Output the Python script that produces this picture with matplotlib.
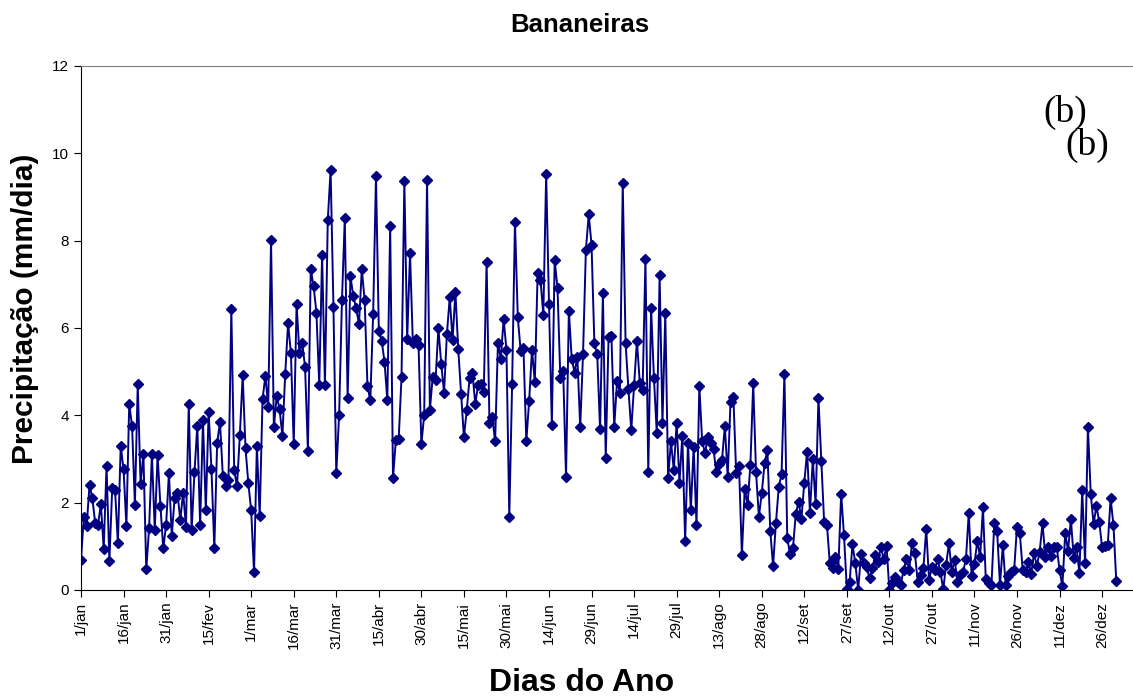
import numpy as np
import matplotlib
matplotlib.use("Agg")
import matplotlib.pyplot as plt

plt.rcParams['font.family'] = ['Liberation Sans', 'DejaVu Sans']

# precipitacao diaria (mm/dia), em blocos de ~30 dias
jan = [0.69, 1.68, 1.47, 2.40, 2.10, 1.53, 1.49, 1.97, 0.94, 2.84, 0.66, 2.33, 2.29, 1.07, 3.30,
       2.76, 1.47, 4.26, 3.76, 1.95, 4.72, 2.43, 3.11, 0.47, 1.41, 3.11, 1.37, 3.09, 1.92, 0.95]
fev = [1.49, 2.67, 1.24, 2.10, 2.23, 1.60, 2.23, 1.45, 4.27, 1.37, 2.69, 3.76, 1.48, 3.89, 1.83,
       4.08, 2.76, 0.95, 3.37, 3.85, 2.61, 2.37, 2.52, 6.43, 2.75, 2.37, 3.55, 4.92, 3.24, 2.44]
mar = [1.82, 0.40, 3.30, 1.69, 4.37, 4.90, 4.20, 8.01, 3.73, 4.44, 4.14, 3.53, 4.95, 6.11, 5.43,
       3.34, 6.55, 5.42, 5.66, 5.10, 3.19, 7.34, 6.96, 6.35, 4.69, 7.67, 4.69, 8.47, 9.62, 6.49]
abr = [2.67, 4.01, 6.63, 8.51, 4.39, 7.18, 6.73, 6.45, 6.09, 7.34, 6.64, 4.66, 4.34, 6.32, 9.48,
       5.94, 5.71, 5.23, 4.34, 8.34, 2.56, 3.43, 3.45, 4.87, 9.37, 5.74, 7.71, 5.66, 5.74, 5.61]
mai = [3.34, 4.01, 9.40, 4.12, 4.88, 4.81, 5.99, 5.18, 4.52, 5.86, 6.70, 5.72, 6.83, 5.51, 4.49,
       3.50, 4.12, 4.85, 4.98, 4.26, 4.69, 4.72, 4.54, 7.52, 3.83, 3.97, 3.40, 5.66, 5.30, 6.20]
jun = [5.50, 1.68, 4.72, 8.43, 6.24, 5.48, 5.53, 3.40, 4.33, 5.50, 4.76, 7.27, 7.10, 6.30, 9.52,
       6.55, 3.78, 7.55, 6.91, 4.85, 5.02, 2.58, 6.40, 5.30, 4.98, 5.34, 3.73, 5.41, 7.78, 8.60]
jul = [7.90, 5.65, 5.40, 3.68, 6.79, 3.02, 5.80, 5.82, 3.74, 4.79, 4.52, 9.31, 5.65, 4.60, 3.66,
       4.69, 5.71, 4.75, 4.58, 7.57, 2.69, 6.45, 4.85, 3.59, 7.21, 3.83, 6.34, 2.56, 3.40, 2.75]
ago = [3.82, 2.46, 3.53, 1.13, 3.37, 1.82, 3.28, 1.49, 4.67, 3.40, 3.14, 3.50, 3.36, 3.22, 2.69,
       2.89, 2.98, 3.76, 2.59, 4.31, 4.43, 2.67, 2.84, 0.80, 2.31, 1.95, 2.86, 4.73, 2.69, 1.68]
set_ = [2.21, 2.90, 3.21, 1.36, 0.55, 1.53, 2.35, 2.66, 4.95, 1.18, 0.82, 0.95, 1.74, 2.02, 1.62,
        2.46, 3.17, 1.77, 2.99, 1.97, 4.39, 2.96, 1.56, 1.49, 0.61, 0.50, 0.76, 0.47, 2.20, 1.26]
out = [0.02, 0.19, 1.05, 0.61, 0.00, 0.82, 0.61, 0.53, 0.27, 0.50, 0.80, 0.63, 0.99, 0.70,
       1.01, 0.00, 0.15, 0.29, 0.19, 0.11, 0.46, 0.70, 0.46, 1.07, 0.84, 0.19, 0.34]
nov = [0.50, 1.39, 0.23, 0.53, 0.46, 0.70, 0.40, 0.02, 0.57, 1.07, 0.42, 0.69, 0.19, 0.34, 0.42,
       0.70, 1.77, 0.31, 0.60, 1.12, 0.75, 1.89, 0.24, 0.17, 0.11, 1.54, 1.34, 0.11, 1.03, 0.11,
       0.32, 0.42, 0.46, 1.45, 1.30]
dez = [0.46, 0.40, 0.65, 0.37, 0.84, 0.55, 0.88, 1.53, 0.76, 0.99, 0.78, 0.98, 0.99, 0.46, 0.09,
       1.30, 0.90, 1.62, 0.73, 0.99, 0.38, 2.29, 0.61, 3.74, 2.20, 1.51, 1.92, 1.56, 0.98, 1.01,
       1.03, 2.10, 1.49, 0.21]

tick_labels = ['1/jan', '16/jan', '31/jan', '15/fev', '1/mar', '16/mar', '31/mar', '15/abr',
               '30/abr', '15/mai', '30/mai', '14/jun', '29/jun', '14/jul', '29/jul', '13/ago',
               '28/ago', '12/set', '27/set', '12/out', '27/out', '11/nov', '26/nov', '11/dez',
               '26/dez']

precip = np.array(jan + fev + mar + abr + mai + jun + jul + ago + set_ + out + nov + dez)
dias = np.arange(1, len(precip) + 1)

fig = plt.figure(figsize=(11.33, 6.99), dpi=100)
ax = fig.add_axes([0.0715, 0.156, 0.9285, 0.7496])

ax.plot(dias, precip, color='#000080', lw=1.4, marker='D', ms=5.5)

ax.set_xlim(1, 371.9)
ax.set_ylim(0, 12)
ax.set_yticks(np.arange(0, 13, 2))
ax.set_xticks(np.arange(1, 367, 15))
ax.set_xticklabels(tick_labels, rotation=90, fontsize=11)
ax.tick_params(axis='y', labelsize=11, direction='out', length=5)
ax.tick_params(axis='x', direction='out', length=5)

ax.spines['right'].set_visible(False)
ax.spines['top'].set_color('#808080')

fig.text(25 / 1133, 1 - 309 / 699, 'Precipitação (mm/dia)', fontsize=21.5, fontweight='bold',
         rotation=90, ha='center', va='center')
fig.text(0.512, 0.964, 'Bananeiras', fontsize=18.5, fontweight='bold', ha='center', va='center')
fig.text(0.513, 0.023, 'Dias do Ano', fontsize=23, fontweight='bold', ha='center', va='center')

# rotulo (b) duplicado, como no original
fig.text(1065 / 1133, 1 - 112 / 699, '(b)', fontsize=27, family='Liberation Serif',
         ha='center', va='center')
fig.text(1087 / 1133, 1 - 145 / 699, '(b)', fontsize=27, family='Liberation Serif',
         ha='center', va='center')

fig.savefig('out.png', dpi=100)
